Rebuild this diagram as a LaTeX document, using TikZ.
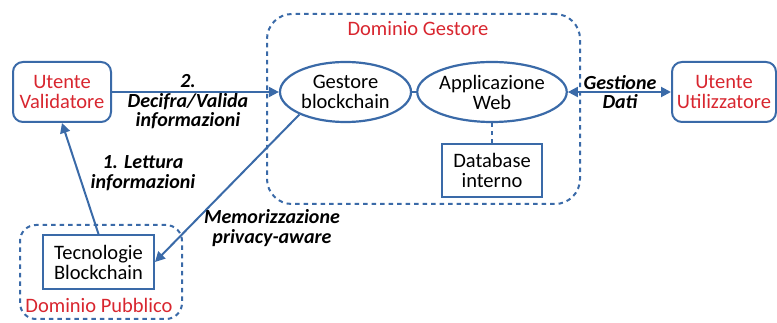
\documentclass[tikz,border=0pt]{standalone}
\usepackage{fontspec}
\setmainfont{Carlito}
\usetikzlibrary{arrows.meta,shapes.geometric}
\definecolor{lineblue}{HTML}{3A6AA8}
\definecolor{labred}{HTML}{D8262F}
\begin{document}
\begin{tikzpicture}[x=1pt,y=-1pt,
  every node/.style={font=\fontsize{20.5}{20}\selectfont, align=center, inner sep=0pt},
  userbox/.style={draw=lineblue, line width=2pt, rounded corners=10pt, minimum width=98pt, minimum height=60pt, text=labred},
  ell/.style={ellipse, draw=lineblue, line width=2.2pt, minimum width=131pt, minimum height=60pt},
  sqbox/.style={draw=lineblue, line width=2pt},
  dombox/.style={draw=lineblue, line width=2pt, dash pattern=on 4.5pt off 4pt},
  dline/.style={draw=lineblue, line width=2pt, dash pattern=on 4pt off 4pt},
  conn/.style={draw=lineblue, line width=2pt, -{Triangle[length=10pt,width=10pt]}},
  dconn/.style={draw=lineblue, line width=2pt, {Triangle[length=10pt,width=10pt]}-{Triangle[length=10pt,width=10pt]}},
  lab/.style={font=\fontsize{20}{19.5}\selectfont\bfseries\itshape},
  domlab/.style={text=labred}
]
\useasboundingbox (0,0) rectangle (777,323);
% domains
\node[dombox, rounded corners=25pt, minimum width=313pt, minimum height=190pt] (dg) at (423.5,109) {};
\node[domlab] (dgl) at (418,29) {Dominio Gestore};
\node[dombox, rounded corners=16pt, minimum width=162pt, minimum height=94pt] (dp) at (101,272) {};
\node[domlab] (dpl) at (99,305) {Dominio Pubblico};
% nodes
\node[userbox] (uv) at (62,92) {Utente\\Validatore};
\node[userbox, minimum width=104pt] (uu) at (724,92) {Utente\\Utilizzatore};
\node[ell] (gb) at (345.5,92) {Gestore\\blockchain};
\node[ell, minimum width=132pt] (aw) at (492,92) {Applicazione\\Web};
\node[sqbox, minimum width=100pt, minimum height=53pt] (db) at (492,170.5) {Database\\interno};
\node[sqbox, minimum width=111pt, minimum height=54pt] (tb) at (98.5,262) {Tecnologie\\Blockchain};
% connectors
\draw[conn] (uv) -- (gb);
\draw[conn] (tb.north) -- (uv.south);
\draw[conn] (gb.206) -- (tb.east);
\draw[dconn] (aw) -- (uu);
\draw[dline] (gb) -- (aw);
\draw[dline] (aw) -- (db);
% labels
\node[lab] (l2) at (188,102) {2.\\Decifra/Valida\\informazioni};
\node[lab] (l1) at (143,173) {1. Lettura\\informazioni};
\node[lab] (lm) at (272,228) {Memorizzazione\\privacy-aware};
\node[lab] (lg) at (620,92) {Gestione\\Dati};
\end{tikzpicture}
\end{document}
